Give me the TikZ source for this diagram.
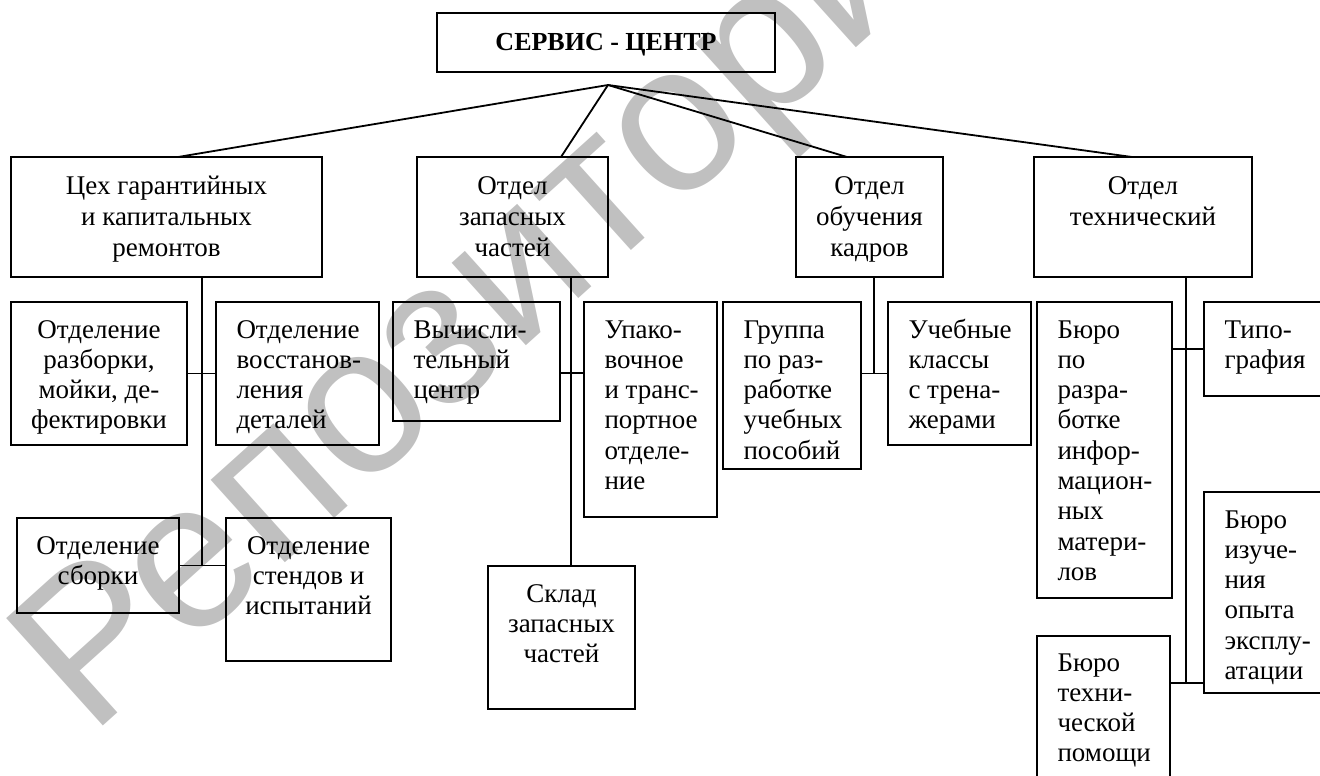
\documentclass[tikz,border=0pt]{standalone}
\usepackage{fontspec}
\setmainfont{Liberation Serif}
\newfontfamily\wmfont{Liberation Sans}
\usetikzlibrary{calc}
\definecolor{wmgray}{RGB}{192,192,192}
\newcommand\cbox[4]{\parbox[t][#2pt][t]{#1pt}{\centering\hyphenpenalty=10000\exhyphenpenalty=10000\rule{0pt}{#3pt}#4}}
\newcommand\lbox[4]{\parbox[t][#2pt][t]{#1pt}{\raggedright\leftskip=20.5pt\hyphenpenalty=10000\exhyphenpenalty=10000\rule{0pt}{#3pt}#4}}
\tikzset{
  box/.style={draw, line width=1.8pt, inner sep=0pt, outer sep=0pt, anchor=north west},
  upper/.style={box, font=\fontsize{27}{31}\selectfont},
  lower/.style={box, font=\fontsize{27}{30.3}\selectfont},
  conn/.style={line width=1.8pt},
  wm/.style={text=wmgray, font=\wmfont\fontsize{210}{210}\selectfont, inner sep=0pt, anchor=base west, rotate=42},
}
\begin{document}
\begin{tikzpicture}[x=1pt,y=-1pt]
\clip (0,0) rectangle (1320,776);
\node[wm] (wmk) at (90,738) {Репозиторий};

% top
\node[box] (top) at (437,13) {\cbox{338}{59}{38}{\fontsize{26}{30}\selectfont\bfseries СЕРВИС - ЦЕНТР}};
\coordinate (apex) at (608,85);

% first level
\node[upper] (b1) at (11,157)   {\cbox{311}{120}{37}{Цех гарантийных\\и капитальных\\ремонтов}};
\node[upper] (b2) at (417,157)  {\cbox{191}{120}{37}{Отдел\\запасных\\частей}};
\node[upper] (b3) at (796,157)  {\cbox{147}{120}{37}{Отдел\\обучения\\кадров}};
\node[upper] (b4) at (1034,157) {\cbox{218}{120}{37}{Отдел\\технический}};

% second level
\node[lower] (r1) at (11,302)   {\cbox{176}{143}{36}{Отделение\\разборки,\\мойки, де-\\фектировки}};
\node[lower] (r2) at (216,302)  {\lbox{163}{143}{36}{Отделение\\восстанов-\\ления\\деталей}};
\node[lower] (sb) at (17,518)   {\cbox{162}{95}{36}{Отделение\\сборки}};
\node[lower] (st) at (226,518)  {\cbox{165}{143}{36}{Отделение\\стендов и\\испытаний}};

\node[lower] (vc) at (393,302)  {\lbox{167}{119}{36}{Вычисли-\\тельный\\центр}};
\node[lower] (up) at (584,302)  {\lbox{133}{215}{36}{Упако-\\вочное\\и транс-\\портное\\отделе-\\ние}};
\node[lower] (sk) at (488,566)  {\cbox{147}{143}{36}{Склад\\запасных\\частей}};

\node[lower] (gr) at (723,302)  {\lbox{138}{167}{36}{Группа\\по раз-\\работке\\учебных\\пособий}};
\node[lower] (uk) at (888,302)  {\lbox{143}{143}{36}{Учебные\\классы\\с трена-\\жерами}};

\node[lower] (br) at (1037,302) {\lbox{135}{296}{36}{Бюро\\по\\разра-\\ботке\\инфор-\\мацион-\\ных\\матери-\\лов}};
\node[lower] (tp) at (1204,302) {\lbox{130}{94}{36}{Типо-\\графия}};
\node[lower] (bi) at (1204,492) {\lbox{130}{201}{36}{Бюро\\изуче-\\ния\\опыта\\эксплу-\\атации}};
\node[lower] (bt) at (1037,636) {\lbox{133}{160}{35}{Бюро\\техни-\\ческой\\помощи}};

% connectors from the top
\draw[conn] (apex) -- ([xshift=11.5pt]b1.north);
\draw[conn] (apex) -- ([xshift=48.5pt]b2.north);
\draw[conn] (apex) -- ([xshift=-22.5pt]b3.north);
\draw[conn] (apex) -- ([xshift=-11pt]b4.north);

% branch 1
\coordinate (v1) at ([xshift=35.5pt]b1.south);
\draw[conn] (v1) -- (v1 |- sb.east);
\draw[conn] (r1.east) -- (r2.west |- r1.east);
\draw[conn] (sb.east) -- (st.west |- sb.east);

% branch 2
\coordinate (v2) at ([xshift=58.5pt]b2.south);
\coordinate (h2) at (0,373);
\draw[conn] (v2) -- (v2 |- sk.north);
\draw[conn] (vc.east |- h2) -- (up.west |- h2);

% branch 3
\coordinate (v3) at ([xshift=4.5pt]b3.south);
\draw[conn] (v3) -- (v3 |- uk.west);
\draw[conn] (gr.east |- uk.west) -- (uk.west);

% branch 4
\coordinate (v4) at ([xshift=43pt]b4.south);
\coordinate (h4) at (0,683);
\draw[conn] (v4) -- (v4 |- h4);
\draw[conn] (br.east |- tp.west) -- (tp.west);
\draw[conn] (bt.east |- h4) -- (bi.west |- h4);
\end{tikzpicture}
\end{document}
